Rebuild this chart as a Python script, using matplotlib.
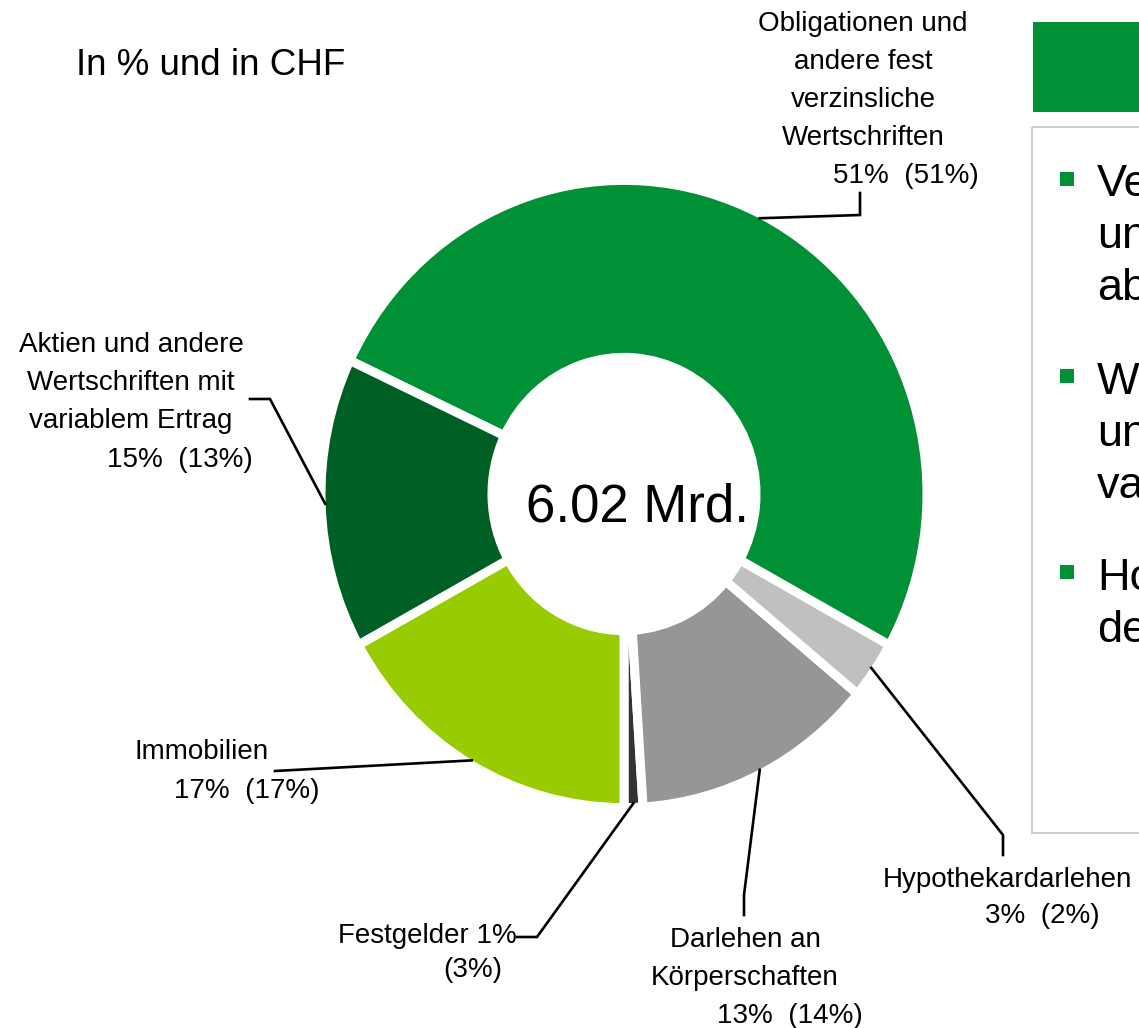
import numpy as np
import matplotlib
matplotlib.use("Agg")
import matplotlib.pyplot as plt
from matplotlib.patches import Rectangle
from matplotlib.transforms import Affine2D

plt.rcParams['font.family'] = ['Liberation Sans', 'DejaVu Sans']

# data (order: clockwise on the page, starting at the bottom going right)
categories = ["Festgelder", "Darlehen an Körperschaften", "Hypothekardarlehen",
              "Obligationen und andere fest verzinsliche Wertschriften",
              "Aktien und andere Wertschriften mit variablem Ertrag", "Immobilien"]
share_now = [1, 13, 3, 51, 15, 17]
share_prev = [3, 14, 2, 51, 13, 17]
colors = ["#333333", "#969696", "#C0C0C0", "#009036", "#005F25", "#99CC00"]
total_text = "6.02 Mrd."

W, H = 1139, 1028
fig = plt.figure(figsize=(W / 100, H / 100), dpi=100)
ax = fig.add_axes([0, 0, 1, 1])

cx, cy = 624, 494
r_out = 303
stretch = 1.035  # the donut in the reference is slightly taller than wide
wedges, _ = ax.pie(share_now, colors=colors, startangle=90, counterclock=False,
                   radius=r_out, center=(cx, cy),
                   wedgeprops=dict(width=171, edgecolor="white", linewidth=6.5))
squash = Affine2D().translate(-cx, -cy).scale(1, stretch).translate(cx, cy)
for w in wedges:
    w.set_transform(squash + ax.transData)
ax.set_xlim(0, W)
ax.set_ylim(H, 0)
ax.axis("off")

ax.text(638, 521, total_text, fontsize=38, ha="center", va="baseline")
ax.text(76, 75, "In % und in CHF", fontsize=26.5, ha="left", va="baseline")

# label layout: name lines (center x, first baseline), value line (center x, baseline), leader elbows
layout = {
    0: dict(name=["Festgelder 1%"], nx=427, ny=943, val="(3%)", vx=473, vy=977,
            elbow=[(537, 937), (517, 937)]),
    1: dict(name=["Darlehen an", "Körperschaften"], nx=745, ny=947, vx=790, vy=1023,
            elbow=[(744, 895), (744, 915)]),
    2: dict(name=["Hypothekardarlehen"], nx=1007, ny=887, vx=1042, vy=923,
            elbow=[(1003, 835), (1003, 855)]),
    3: dict(name=["Obligationen und", "andere fest", "verzinsliche", "Wertschriften"],
            nx=863, ny=31, vx=906, vy=183, elbow=[(860, 215), (860, 193)]),
    4: dict(name=["Aktien und andere", "Wertschriften mit", "variablem Ertrag"],
            nx=131, ny=352, vx=180, vy=467, elbow=[(270, 399), (250, 399)]),
    5: dict(name=["Immobilien"], nx=202, ny=759, vx=247, vy=798, elbow=[(275, 771)]),
}
line_gap = 38
for i, w in enumerate(wedges):
    lay = layout[i]
    for k, line in enumerate(lay["name"]):
        ax.text(lay["nx"], lay["ny"] + k * line_gap, line, fontsize=20,
                ha="center", va="baseline")
    val = lay.get("val", f"{share_now[i]}%  ({share_prev[i]}%)")
    ax.text(lay["vx"], lay["vy"], val, fontsize=20, ha="center", va="baseline")
    mid = np.deg2rad((w.theta1 + w.theta2) / 2)
    r_anchor = r_out - 4
    start = (cx + r_anchor * np.cos(mid), cy + r_anchor * stretch * np.sin(mid))
    xs, ys = zip(*([start] + lay["elbow"]))
    ax.plot(xs, ys, color="black", lw=1.9, solid_joinstyle="miter")

# right-hand panel (cut off at the figure edge)
ax.add_patch(Rectangle((1033, 22), 130, 90, facecolor="#009036", edgecolor="none"))
ax.add_patch(Rectangle((1032, 127), 140, 706, facecolor="none", edgecolor="#CFCFCF", lw=1.5))
bullets = [(172, ["Ve", "un", "ab"]), (369, ["W", "un", "va"]), (565, ["Ho", "de"])]
first_base = [196, 394, 590]
for (by, lines), b0 in zip(bullets, first_base):
    ax.add_patch(Rectangle((1060, by), 14, 14, facecolor="#009036", edgecolor="none"))
    for k, line in enumerate(lines):
        ax.text(1097, b0 + k * 52, line, fontsize=32.5, ha="left", va="baseline")

fig.savefig("out.png", dpi=100)
